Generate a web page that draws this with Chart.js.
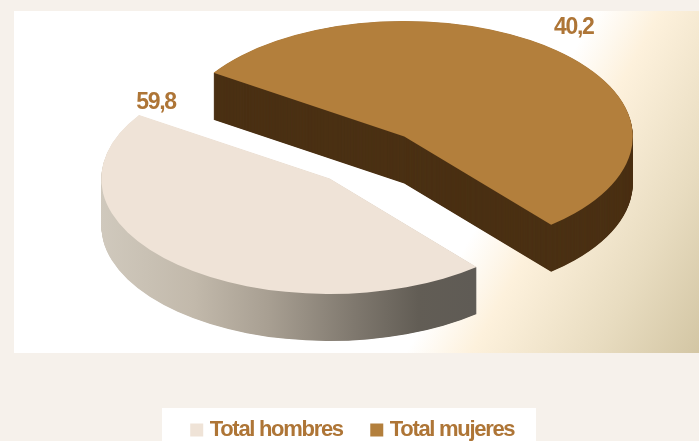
<!DOCTYPE html>
<html lang="es">
<head>
<meta charset="utf-8">
<title>Total hombres / Total mujeres</title>
<script src="https://cdn.jsdelivr.net/npm/chart.js@4"></script>
<style>
html,body{margin:0;padding:0;width:699px;height:441px;overflow:hidden;background:#f6f1eb}
#plot{position:absolute;left:14px;top:11px;width:685px;height:342px;
  background:linear-gradient(119deg,#fff 0%,#fff 66.5%,#fdf1dc 74%,#e8dcc0 88%,#d3c6a4 100%)}
#legendBox{position:absolute;left:162px;top:408px;width:374px;height:33px;background:#fff}
canvas{position:absolute;left:0;top:0}
</style>
</head>
<body>
<div id="plot"></div>
<div id="legendBox"></div>
<canvas id="c" width="699" height="441" style="width:699px;height:441px"></canvas>
<script>
const categories = ['Total hombres', 'Total mujeres'];
const shownValues = [59.8, 40.2];
const drawnShares = [45.4, 54.6];

const topColors = ['#efe3d7', '#b37f3c'];
const textColor = '#ae7536';
const fontFamily = '"Liberation Sans",Arial,sans-serif';
const tightText = '-1.3px';

const scene = {
  cx: 367, cy: 157.5, squash: 0.505, depth: 47, radius: 228.5, offset: 224,
  labels: [{angle: 220.9, reach: 1.006}, {angle: -51.7, reach: 1.197}]
};

function sideFill(ctx, arc, i) {
  if (i === 1) return '#4b3114';
  const g = ctx.createLinearGradient(arc.x - 230, 0, arc.x + 145, 0);
  g.addColorStop(0, '#d0c9bd');
  g.addColorStop(0.25, '#c2b9ab');
  g.addColorStop(0.45, '#a89f92');
  g.addColorStop(0.68, '#7f786e');
  g.addColorStop(0.85, '#625d55');
  g.addColorStop(1, '#5f5b55');
  return g;
}

const pie3d = {
  id: 'pie3d',
  beforeUpdate(chart) { chart.ctx.letterSpacing = tightText; },
  beforeDraw(chart) { chart.ctx.letterSpacing = tightText; },
  afterUpdate(chart) {
    chart.getDatasetMeta(0).data.forEach(arc => {
      // Chart.js grows an offset arc by offset/4 * fix and trims its ends; undo both
      const grown = scene.offset / 4 * (1 - Math.sin(Math.min(Math.PI, arc.circumference)));
      arc.outerRadius = scene.radius - grown;
      const trim = grown / Math.PI / scene.radius / 2;
      arc.startAngle -= trim;
      arc.endAngle += trim;
    });
  },
  beforeDatasetsDraw(chart) {
    const ctx = chart.ctx;
    const arcs = chart.getDatasetMeta(0).data;
    ctx.save();
    ctx.translate(scene.cx, scene.cy);
    ctx.scale(1, scene.squash);
    ctx.translate(-arcs[0].x, -arcs[0].y);
    arcs.forEach((arc, i) => {
      const base = arc.options;
      const side = Object.create(base);
      side.backgroundColor = sideFill(ctx, arc, i);
      arc.options = side;
      for (let d = scene.depth; d > 0; d -= 0.5) {
        ctx.save();
        ctx.translate(0, d / scene.squash);
        arc.draw(ctx);
        ctx.restore();
      }
      arc.options = base;
    });
  },
  afterDatasetsDraw(chart) {
    const ctx = chart.ctx;
    ctx.restore();
    const arcs = chart.getDatasetMeta(0).data;
    ctx.save();
    ctx.font = 'bold 23px ' + fontFamily;
    ctx.fillStyle = textColor;
    ctx.textAlign = 'center';
    ctx.textBaseline = 'middle';
    arcs.forEach((arc, i) => {
      const mid = (arc.startAngle + arc.endAngle) / 2;
      const a = scene.labels[i].angle * Math.PI / 180;
      const r = scene.radius * scene.labels[i].reach;
      const x = scene.cx + Math.cos(mid) * scene.offset / 4 + Math.cos(a) * r;
      const y = scene.cy + (Math.sin(mid) * scene.offset / 4 + Math.sin(a) * r) * scene.squash;
      ctx.fillText(shownValues[i].toFixed(1).replace('.', ','), x, y);
    });
    ctx.restore();
  }
};

new Chart(document.getElementById('c'), {
  type: 'pie',
  plugins: [pie3d],
  data: {
    labels: categories,
    datasets: [{
      data: drawnShares,
      backgroundColor: topColors,
      borderWidth: 0,
      offset: scene.offset,
      clip: false
    }]
  },
  options: {
    responsive: false,
    animation: false,
    radius: scene.radius,
    rotation: 140,
    layout: {padding: {left: 10, bottom: -10}},
    plugins: {
      tooltip: {enabled: false},
      legend: {
        position: 'bottom',
        labels: {
          boxWidth: 4,
          boxHeight: 4,
          padding: 32,
          color: textColor,
          font: {family: fontFamily, weight: 'bold', size: 22},
          generateLabels: () => categories.map((text, i) => ({
            text,
            fillStyle: topColors[i],
            strokeStyle: topColors[i],
            lineWidth: 9,
            fontColor: textColor,
            index: i
          }))
        }
      }
    }
  }
});
</script>
</body>
</html>
